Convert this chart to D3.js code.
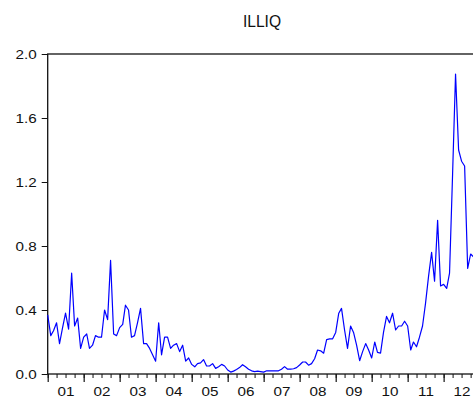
<!DOCTYPE html>
<html>
<head>
<meta charset="utf-8">
<script src="https://cdn.jsdelivr.net/npm/d3@7/dist/d3.min.js"></script>
<style>
  html, body { margin: 0; padding: 0; background: #fff; }
  svg { display: block; font-family: "Liberation Sans", Arial, sans-serif; }
</style>
</head>
<body>
<svg id="chart" width="473" height="403"></svg>
<script>
// Monthly ILLIQ series, January 2001 onward
const startYear = 2001;
const illiq = [
  0.37, 0.24, 0.27, 0.32, 0.19, 0.29, 0.38, 0.28, 0.63, 0.30, 0.35, 0.16,   // 2001
  0.23, 0.25, 0.16, 0.18, 0.24, 0.23, 0.23, 0.40, 0.34, 0.71, 0.25, 0.24,   // 2002
  0.29, 0.31, 0.43, 0.40, 0.23, 0.24, 0.32, 0.41, 0.19, 0.19, 0.16, 0.12,   // 2003
  0.08, 0.32, 0.12, 0.23, 0.23, 0.16, 0.18, 0.19, 0.14, 0.18, 0.08, 0.10,   // 2004
  0.06, 0.045, 0.065, 0.07, 0.09, 0.05, 0.05, 0.065, 0.035, 0.045, 0.06, 0.05, // 2005
  0.025, 0.012, 0.018, 0.028, 0.04, 0.058, 0.045, 0.03, 0.02, 0.015, 0.018, 0.015, // 2006
  0.012, 0.02, 0.02, 0.02, 0.02, 0.02, 0.03, 0.046, 0.03, 0.03, 0.033, 0.04, // 2007
  0.056, 0.075, 0.075, 0.055, 0.065, 0.095, 0.15, 0.145, 0.13, 0.215, 0.22, 0.22, // 2008
  0.26, 0.38, 0.41, 0.275, 0.16, 0.30, 0.26, 0.18, 0.083, 0.14, 0.19, 0.15, // 2009
  0.10, 0.20, 0.135, 0.13, 0.26, 0.36, 0.32, 0.38, 0.275, 0.30, 0.30, 0.33, // 2010
  0.30, 0.15, 0.20, 0.17, 0.23, 0.30, 0.44, 0.61, 0.76, 0.58, 0.96, 0.55,   // 2011
  0.56, 0.535, 0.63, 1.25, 1.875, 1.40, 1.33, 1.30, 0.66, 0.75, 0.73        // 2012
];
const yearLabels = ["01", "02", "03", "04", "05", "06", "07", "08", "09", "10", "11", "12"];
const yTicks = [0.0, 0.4, 0.8, 1.2, 1.6, 2.0];
const title = "ILLIQ";

const svg = d3.select("#chart");
const plotLeft = 47.7, plotRight = 479.7, plotTop = 54, plotBottom = 374;

const x = d3.scaleTime()
  .domain([new Date(startYear, 0, 1), new Date(startYear + yearLabels.length, 0, 1)])
  .range([plotLeft, plotRight]);
const y = d3.scaleLinear().domain([0, 2]).range([plotBottom, plotTop]);

// Frame
svg.append("rect")
  .attr("x", plotLeft).attr("y", plotTop)
  .attr("width", plotRight - plotLeft).attr("height", plotBottom - plotTop)
  .attr("fill", "none").attr("stroke", "#111").attr("stroke-width", 1.3);

// Series line
const line = d3.line()
  .x((d, i) => x(new Date(startYear, i, 1)))
  .y(d => y(d));
svg.append("path")
  .datum(illiq)
  .attr("d", line)
  .attr("fill", "none")
  .attr("stroke", "#0000ff")
  .attr("stroke-width", 1.2)
  .attr("stroke-linejoin", "round");

// Y axis
const yAxis = svg.append("g")
  .attr("transform", `translate(${plotLeft},0)`)
  .call(d3.axisLeft(y).tickValues(yTicks).tickSize(6).tickFormat(d3.format(".1f")));
yAxis.select(".domain").remove();
yAxis.selectAll(".tick line").attr("stroke", "#111");
yAxis.selectAll(".tick text")
  .attr("x", 0)
  .attr("dy", "0.34em")
  .attr("transform", "translate(-11,0) scale(1.27,1)")
  .attr("font-size", 12)
  .attr("fill", "#111");

// X axis: year ticks, quarterly minor ticks, mid-year labels
const xMajor = svg.append("g")
  .attr("transform", `translate(0,${plotBottom})`)
  .call(d3.axisBottom(x).ticks(d3.timeYear.every(1)).tickSize(8).tickFormat(""));
xMajor.select(".domain").remove();
xMajor.selectAll(".tick line").attr("stroke", "#111").attr("stroke-width", 1.2);

const xMinor = svg.append("g")
  .attr("transform", `translate(0,${plotBottom})`)
  .call(d3.axisBottom(x).ticks(d3.timeMonth.every(3)).tickSize(4).tickFormat(""));
xMinor.select(".domain").remove();
xMinor.selectAll(".tick line").attr("stroke", "#111");

const midYears = yearLabels.map((l, i) => new Date(startYear + i, 6, 1));
const xLabels = svg.append("g")
  .attr("transform", `translate(0,${plotBottom})`)
  .call(d3.axisBottom(x).tickValues(midYears).tickSize(0).tickPadding(13)
    .tickFormat((d, i) => yearLabels[i]));
xLabels.select(".domain").remove();
xLabels.selectAll(".tick text")
  .attr("transform", "scale(1.27,1)")
  .attr("font-size", 12)
  .attr("fill", "#111");

// Title
svg.append("text")
  .attr("transform", "translate(262,26.5) scale(0.92,1)")
  .attr("text-anchor", "middle")
  .attr("font-size", 17)
  .attr("fill", "#111")
  .text(title);
</script>
</body>
</html>
